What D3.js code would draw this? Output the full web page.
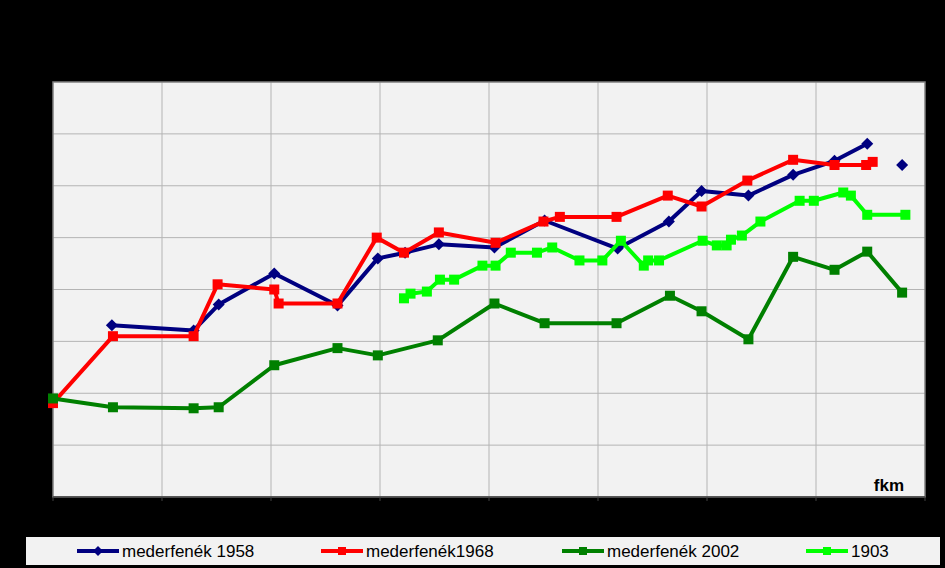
<!DOCTYPE html>
<html><head><meta charset="utf-8">
<script src="https://cdn.jsdelivr.net/npm/d3@7"></script>
<style>body{margin:0;background:#000}svg{display:block;font-family:"Liberation Sans",Arial,sans-serif}</style>
</head><body><svg id="c" width="945" height="568"></svg>
<script>
// river km (arbitrary axis units) vs bed level (arbitrary units)
const km1958 = [5.4,12.9,15.2,20.3,26.1,29.8,32.3,35.4,40.5,45.1,51.8,56.5,59.5,63.8,67.9,71.7,74.7,null,77.9];
const val1958 = [3.31,3.21,3.71,4.31,3.69,4.60,4.71,4.87,4.81,5.33,4.79,5.31,5.90,5.81,6.21,6.48,6.81,null,6.40];
const km1968 = [0,5.5,12.9,15.1,20.3,20.7,26.1,29.7,32.2,35.4,40.6,45.0,46.5,51.7,56.4,59.5,63.7,67.9,71.7,74.6,75.2];
const val1968 = [1.81,3.10,3.10,4.10,4.00,3.73,3.73,5.00,4.71,5.10,4.90,5.31,5.40,5.40,5.81,5.60,6.10,6.50,6.40,6.40,6.46];
const km2002 = [0,5.5,12.9,15.2,20.3,26.1,29.8,35.3,40.5,45.1,51.7,56.6,59.5,63.8,67.9,71.7,74.7,77.9];
const val2002 = [1.90,1.73,1.71,1.73,2.54,2.87,2.73,3.02,3.73,3.35,3.35,3.88,3.58,3.04,4.63,4.38,4.73,3.94];
const km1903 = [32.2,32.8,34.3,35.5,36.8,39.4,40.6,42.0,44.4,45.8,48.3,50.4,52.1,54.2,54.6,55.6,59.6,60.9,61.8,62.2,63.2,64.9,68.5,69.8,72.5,73.2,74.7,78.2];
const val1903 = [3.83,3.92,3.96,4.19,4.19,4.46,4.46,4.71,4.71,4.81,4.56,4.56,4.94,4.46,4.56,4.56,4.94,4.85,4.85,4.96,5.04,5.31,5.71,5.71,5.87,5.81,5.44,5.44];
const seriesNames = ["mederfenék 1958","mederfenék1968","mederfenék 2002","1903"];

const svg = d3.select("#c");
const L=53,R=925,T=82,B=497;
const x = d3.scaleLinear().domain([0,80]).range([L,R]);
const y = d3.scaleLinear().domain([0,8]).range([B,T]);

svg.append("rect").attr("x",L).attr("y",T).attr("width",R-L).attr("height",B-T).attr("fill","#f2f2f2");
const g = svg.append("g");
g.selectAll(".vx").data(d3.range(10,80,10)).join("line")
  .attr("x1",d=>x(d)).attr("x2",d=>x(d)).attr("y1",T).attr("y2",B).attr("stroke","#b4b4b4");
g.selectAll(".hy").data(d3.range(1,8)).join("line")
  .attr("y1",d=>y(d)).attr("y2",d=>y(d)).attr("x1",L).attr("x2",R).attr("stroke","#b4b4b4");
svg.append("rect").attr("x",L).attr("y",T).attr("width",R-L).attr("height",B-T).attr("fill","none").attr("stroke","#808080").attr("stroke-width",1.5);
svg.append("line").attr("x1",L).attr("x2",R).attr("y1",B).attr("y2",B).attr("stroke","#404040").attr("stroke-width",1.5);
svg.append("g").selectAll("line").data(d3.range(0,81,10)).join("line")
  .attr("x1",d=>x(d)).attr("x2",d=>x(d)).attr("y1",B).attr("y2",B+4).attr("stroke","#404040");
svg.append("text").attr("x",904).attr("y",491).attr("text-anchor","end").attr("font-weight","bold").attr("font-size",17).text("fkm");

const series = [
  {xs:km1958, ys:val1958, color:"#000080", marker:"diamond"},
  {xs:km1968, ys:val1968, color:"#ff0000", marker:"square"},
  {xs:km2002, ys:val2002, color:"#008000", marker:"square"},
  {xs:km1903, ys:val1903, color:"#00ff00", marker:"square"}
];
const line = d3.line().defined(d=>d[0]!=null).x(d=>x(d[0])).y(d=>y(d[1]));
function marker(sel, type, color){
  if(type==="diamond") sel.append("path").attr("d","M0,-6L6,0L0,6L-6,0Z").attr("fill",color);
  else sel.append("rect").attr("x",-5).attr("y",-5).attr("width",10).attr("height",10).attr("fill",color);
}
series.forEach(s=>{
  const pts = s.xs.map((v,i)=>[v,s.ys[i]]);
  svg.append("path").datum(pts).attr("d",line).attr("fill","none").attr("stroke",s.color).attr("stroke-width",4).attr("stroke-linejoin","round");
  pts.filter(p=>p[0]!=null).forEach(p=>{
    marker(svg.append("g").attr("transform",`translate(${x(p[0])},${y(p[1])})`), s.marker, s.color);
  });
});

// legend
svg.append("rect").attr("x",26).attr("y",537).attr("width",914).attr("height",28).attr("fill","#f2f2f2");
const lx=[77,321,562,806];
series.forEach((s,i)=>{
  const lg = svg.append("g").attr("transform",`translate(${lx[i]},551)`);
  lg.append("line").attr("x1",0).attr("x2",42).attr("stroke",s.color).attr("stroke-width",4);
  if(s.marker==="diamond") lg.append("path").attr("d","M21,-5L26,0L21,5L16,0Z").attr("fill",s.color);
  else lg.append("rect").attr("x",17).attr("y",-4).attr("width",8).attr("height",8).attr("fill",s.color);
  lg.append("text").attr("x",45).attr("y",6).attr("font-size",17).attr("fill","#000").text(seriesNames[i]);
});
</script></body></html>
